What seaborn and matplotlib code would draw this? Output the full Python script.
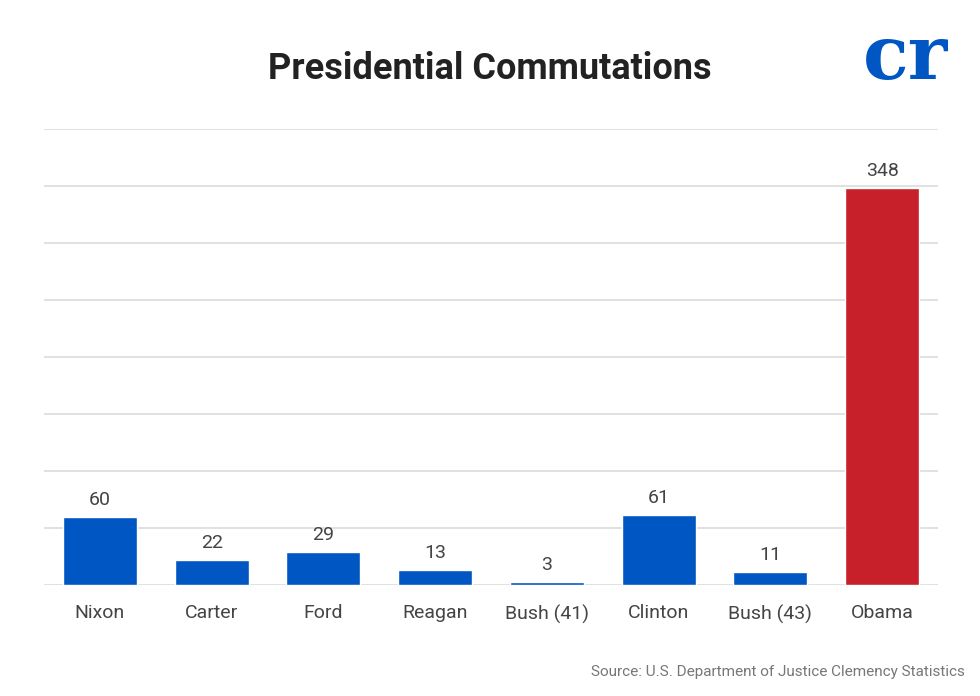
import matplotlib
matplotlib.use('Agg')
import matplotlib.pyplot as plt
import seaborn as sns
import pandas as pd

# Datos
presidents = ['Nixon', 'Carter', 'Ford', 'Reagan', 'Bush (41)', 'Clinton', 'Bush (43)', 'Obama']
commutations = [60, 22, 29, 13, 3, 61, 11, 348]
bar_colors = ['#0057c3'] * 7 + ['#c8202a']

df = pd.DataFrame({'president': presidents, 'commutations': commutations})

sns.set_theme(style='white')
plt.rcParams['font.family'] = ['Roboto', 'DejaVu Sans']

fig = plt.figure(figsize=(9.8, 6.96), dpi=100)
ax = fig.add_axes([44 / 980, 111 / 696, 894 / 980, 456 / 696])

sns.barplot(data=df, x='president', y='commutations', hue='president',
            palette=bar_colors, legend=False, width=0.66, saturation=1, ax=ax)

ax.set_ylim(0, 400)
ax.set_xlim(-0.5, 7.5)
ax.set_yticks(range(0, 401, 50))
ax.yaxis.grid(True, color='#dcdcdc', linewidth=1.2)
ax.set_axisbelow(True)
ax.tick_params(axis='y', left=False, labelleft=False)
ax.tick_params(axis='x', bottom=False, labelsize=14, colors='#444444', pad=8)
ax.set_xlabel('')
ax.set_ylabel('')
for s in ax.spines.values():
    s.set_visible(False)

for i, v in enumerate(commutations):
    ax.text(i, v + 7, str(v), ha='center', va='bottom', fontsize=14, color='#444444')

fig.text(0.5, 1 - 69 / 696, 'Presidential Commutations', ha='center', va='center',
         fontsize=26, fontweight='bold', color='#222222')
fig.text(905 / 980, 1 - 58 / 696, 'cr', ha='center', va='center',
         fontsize=54, fontweight='bold', color='#0057c3', family='DejaVu Serif')
fig.text(965 / 980, 1 - 672 / 696, 'Source: U.S. Department of Justice Clemency Statistics',
         ha='right', va='center', fontsize=11, color='#777777')

fig.savefig('out.png', dpi=100)
